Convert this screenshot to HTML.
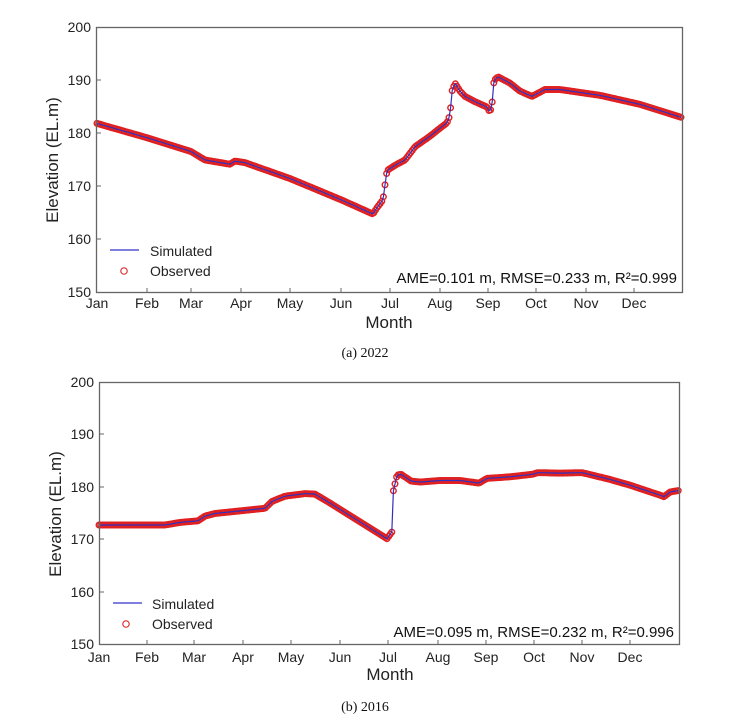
<!DOCTYPE html>
<html><head><meta charset="utf-8"><style>
body{margin:0;background:#fff;}
svg{display:block;font-family:"Liberation Sans",Arial,sans-serif;}
</style></head><body>
<svg id="s" width="734" height="724" xmlns="http://www.w3.org/2000/svg">
<g id="g1"></g><g id="g2"></g>
<!-- chart 1 frame -->
<rect x="96.5" y="27.5" width="586" height="265" fill="none" stroke="#666" stroke-width="1.3"/>
<g stroke="#666" stroke-width="1">
<path d="M147 292v-4M191 292v-4M241 292v-4M290 292v-4M341 292v-4M390 292v-4M440 292v-4M488 292v-4M536 292v-4M586 292v-4M634 292v-4M97 80h4M97 133h4M97 186h4M97 239h4"/>
<path d="M147 644v-4M194 644v-4M243 644v-4M291 644v-4M340 644v-4M388 644v-4M438 644v-4M486 644v-4M534 644v-4M582 644v-4M630 644v-4M100 434h4M100 487h4M100 539h4M100 592h4"/>
</g>
<g font-size="14" fill="#222" text-anchor="end">
<text x="91" y="32">200</text><text x="91" y="85">190</text><text x="91" y="138">180</text><text x="91" y="191">170</text><text x="91" y="244">160</text><text x="91" y="297">150</text>
</g>
<g font-size="14" fill="#222" text-anchor="middle">
<text x="97" y="308">Jan</text><text x="147" y="308">Feb</text><text x="191" y="308">Mar</text><text x="241" y="308">Apr</text><text x="290" y="308">May</text><text x="341" y="308">Jun</text><text x="390" y="308">Jul</text><text x="440" y="308">Aug</text><text x="488" y="308">Sep</text><text x="536" y="308">Oct</text><text x="586" y="308">Nov</text><text x="634" y="308">Dec</text>
</g>
<text x="389" y="328" font-size="17" text-anchor="middle" fill="#222">Month</text>
<text transform="translate(58,160) rotate(-90)" font-size="17" text-anchor="middle" fill="#222">Elevation (EL.m)</text>
<line x1="110" y1="250" x2="139" y2="250" stroke="#3333cc" stroke-width="1.2"/>
<text x="150" y="256" font-size="14" fill="#222">Simulated</text>
<circle cx="124" cy="271" r="3.2" fill="none" stroke="#d33" stroke-width="1.2"/>
<text x="150" y="276" font-size="14" fill="#222">Observed</text>
<text x="677" y="283" font-size="15" text-anchor="end" fill="#111">AME=0.101 m, RMSE=0.233 m, R²=0.999</text>
<text x="365" y="357" font-size="14" text-anchor="middle" font-family="Liberation Serif,serif" fill="#111">(a)  2022</text>
<!-- chart 2 frame -->
<rect x="99.5" y="382.5" width="580" height="262" fill="none" stroke="#666" stroke-width="1.3"/>
<g font-size="14" fill="#222" text-anchor="end">
<text x="94" y="387">200</text><text x="94" y="439">190</text><text x="94" y="492">180</text><text x="94" y="544">170</text><text x="94" y="597">160</text><text x="94" y="649">150</text>
</g>
<g font-size="14" fill="#222" text-anchor="middle">
<text x="99" y="662">Jan</text><text x="147" y="662">Feb</text><text x="194" y="662">Mar</text><text x="243" y="662">Apr</text><text x="291" y="662">May</text><text x="340" y="662">Jun</text><text x="388" y="662">Jul</text><text x="438" y="662">Aug</text><text x="486" y="662">Sep</text><text x="534" y="662">Oct</text><text x="582" y="662">Nov</text><text x="630" y="662">Dec</text>
</g>
<text x="390" y="680" font-size="17" text-anchor="middle" fill="#222">Month</text>
<text transform="translate(61,514) rotate(-90)" font-size="17" text-anchor="middle" fill="#222">Elevation (EL.m)</text>
<line x1="113" y1="603" x2="142" y2="603" stroke="#3333cc" stroke-width="1.2"/>
<text x="152" y="609" font-size="14" fill="#222">Simulated</text>
<circle cx="126" cy="624" r="3.2" fill="none" stroke="#d33" stroke-width="1.2"/>
<text x="152" y="629" font-size="14" fill="#222">Observed</text>
<text x="674" y="637" font-size="15" text-anchor="end" fill="#111">AME=0.095 m, RMSE=0.232 m, R²=0.996</text>
<text x="365" y="711" font-size="14" text-anchor="middle" font-family="Liberation Serif,serif" fill="#111">(b)  2016</text>
</svg>
<script>
function draw(gid,kp,x0,x1,ytop,sc){
 var g=document.getElementById(gid),NS="http://www.w3.org/2000/svg";
 function val(x){for(var i=1;i<kp.length;i++){if(x<=kp[i][0]){var a=kp[i-1],b=kp[i];return a[1]+(b[1]-a[1])*(x-a[0])/(b[0]-a[0]);}}return kp[kp.length-1][1];}
 function Y(v){return ytop+(200-v)*sc;}
 var pts=[];
 for(var x=x0;x<=x1;x+=1.6){pts.push([x,Y(val(x))]);}
 pts.forEach(function(p){var c=document.createElementNS(NS,"circle");c.setAttribute("cx",p[0].toFixed(1));c.setAttribute("cy",p[1].toFixed(1));c.setAttribute("r","2.8");c.setAttribute("fill","none");c.setAttribute("stroke","#e02020");c.setAttribute("stroke-width","1.4");g.appendChild(c);});
 var pl=document.createElementNS(NS,"polyline");pl.setAttribute("points",pts.map(function(p){return p[0].toFixed(1)+","+p[1].toFixed(1)}).join(" "));pl.setAttribute("fill","none");pl.setAttribute("stroke","#3030c0");pl.setAttribute("stroke-width","1.2");g.appendChild(pl);
}
draw("g1",[[97,181.9],[147,179.2],[191,176.6],[205,175.0],[230,174.2],[235,174.8],[245,174.5],[290,171.5],[341,167.5],[373,164.8],[377,166],[383,167.5],[385,170.3],[387,173],[395,174],[405,175],[415,177.5],[430,179.5],[440,181],[447,182],[450,183.5],[452,188],[455,189.5],[460,188],[465,187],[475,186],[487,185],[490,184],[492,185.5],[494,190],[498,190.7],[510,189.5],[520,188],[532,187],[537,187.5],[545,188.3],[560,188.3],[600,187.2],[640,185.5],[682,183]],97,682,27.5,5.3);
draw("g2",[[99,172.8],[165,172.8],[180,173.3],[198,173.6],[205,174.5],[215,175],[240,175.5],[265,176],[272,177.3],[285,178.3],[305,178.8],[315,178.7],[330,177],[355,174],[387,170.2],[392,171.5],[393,179],[397,182.3],[401,182.5],[411,181.2],[420,181],[440,181.3],[460,181.3],[479,180.8],[487,181.7],[510,182],[533,182.5],[538,182.8],[560,182.7],[582,182.8],[610,181.5],[630,180.4],[660,178.5],[664,178.2],[670,179.1],[679,179.4]],99,679,382.5,5.24);
</script>
</body></html>
